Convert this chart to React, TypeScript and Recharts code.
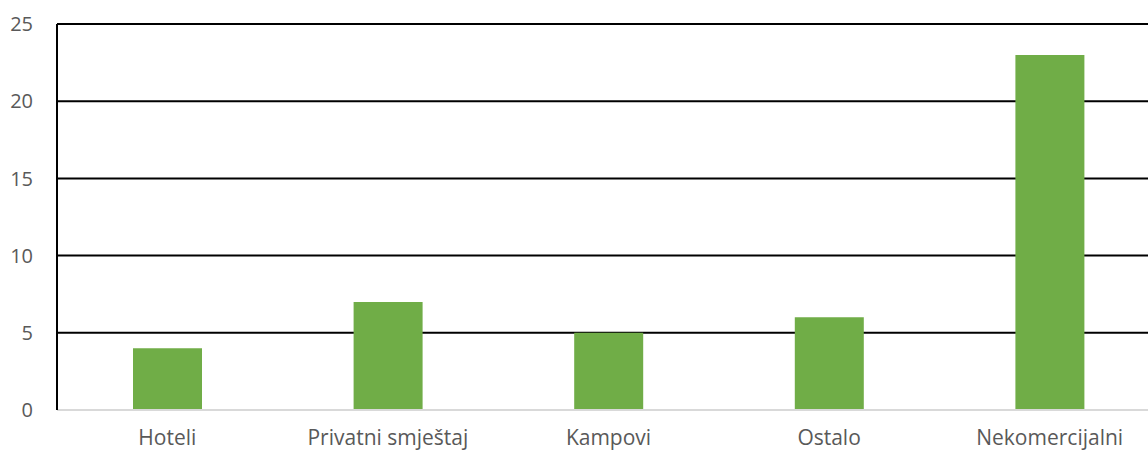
import { BarChart, Bar, XAxis, YAxis, CartesianGrid } from "recharts";

const categories = ["Hoteli", "Privatni smještaj", "Kampovi", "Ostalo", "Nekomercijalni"];
const values = [4, 7, 5, 6, 23];
const yTicks = [0, 5, 10, 15, 20, 25];

const data = categories.map((name, i) => ({ name, value: values[i] }));

const font = "'Open Sans', sans-serif";
const xTickStyle = { fill: "#595959", fontSize: 21, fontFamily: font };
const yTickStyle = { fill: "#595959", fontSize: 20, fontFamily: font };

export default function App() {
  return (
    <div
      style={{
        position: "fixed",
        left: 0,
        top: 0,
        width: 1148,
        height: 452,
        overflow: "hidden",
        background: "#fff",
      }}
    >
      <BarChart
        width={1160}
        height={452}
        data={data}
        margin={{ top: 24, right: 0, left: 0, bottom: 0 }}
      >
        <CartesianGrid
          vertical={false}
          horizontalValues={[5, 10, 15, 20, 25]}
          stroke="#000"
          strokeWidth={2}
        />
        <XAxis
          dataKey="name"
          height={42}
          tick={xTickStyle}
          tickLine={false}
          tickSize={0}
          tickMargin={20}
          axisLine={{ stroke: "#d9d9d9", strokeWidth: 2 }}
        />
        <YAxis
          width={57}
          domain={[0, 25]}
          ticks={yTicks}
          tick={yTickStyle}
          tickLine={false}
          tickSize={0}
          tickMargin={24}
          axisLine={{ stroke: "#000", strokeWidth: 2 }}
        />
        <Bar dataKey="value" fill="#70AD47" barSize={69} isAnimationActive={false} />
      </BarChart>
    </div>
  );
}
